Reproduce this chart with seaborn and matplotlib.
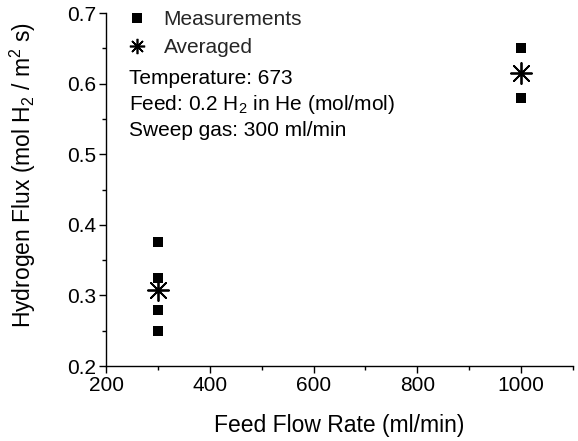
import matplotlib
matplotlib.use("Agg")
import matplotlib.pyplot as plt
import seaborn as sns
import pandas as pd
from matplotlib.ticker import MultipleLocator
from matplotlib.lines import Line2D

sns.set_theme(style="ticks")
plt.rcParams['font.family'] = ['Liberation Sans', 'DejaVu Sans']
plt.rcParams['mathtext.fontset'] = 'custom'
plt.rcParams['mathtext.rm'] = 'Liberation Sans'
plt.rcParams['mathtext.it'] = 'Liberation Sans'

# Data
meas_flow = [300, 300, 300, 300, 1000, 1000]
meas_flux = [0.375, 0.325, 0.28, 0.25, 0.65, 0.58]
avg_flow = [300, 1000]
avg_flux = [0.3075, 0.615]

x_ticks = [200, 400, 600, 800, 1000]
y_ticks = [0.2, 0.3, 0.4, 0.5, 0.6, 0.7]

meas_df = pd.DataFrame({"flow": meas_flow, "flux": meas_flux})
avg_df = pd.DataFrame({"flow": avg_flow, "flux": avg_flux})

FS = 15
LFS = 16.5

fig = plt.figure(figsize=(5.78, 4.41), dpi=100)
ax = fig.add_axes([0.1834, 0.170, 0.808, 0.8005])

sns.scatterplot(data=meas_df, x="flow", y="flux", marker="s", color="black",
                s=52, edgecolor="black", linewidth=0, ax=ax, legend=False,
                zorder=3)
sns.scatterplot(data=avg_df, x="flow", y="flux", marker=(8, 2, 0), color="black",
                s=230, linewidth=1.3, ax=ax, legend=False, zorder=4)

ax.set_xlim(200, 1100)
ax.set_ylim(0.2, 0.7)
ax.set_xticks(x_ticks)
ax.set_yticks(y_ticks)
ax.set_yticklabels([f"{v:.1f}" for v in y_ticks])
ax.xaxis.set_minor_locator(MultipleLocator(100))
ax.yaxis.set_minor_locator(MultipleLocator(0.05))
ax.tick_params(axis="both", which="major", direction="out", length=5, width=1,
               labelsize=FS, color="black", labelcolor="black", pad=2)
ax.tick_params(axis="both", which="minor", direction="out", length=3, width=1,
               color="black")
for side in ["top", "right"]:
    ax.spines[side].set_visible(False)
for side in ["left", "bottom"]:
    ax.spines[side].set_color("black")
    ax.spines[side].set_linewidth(1.0)

ax.set_xlabel("Feed Flow Rate (ml/min)", fontsize=LFS, labelpad=14, color="black")
ax.set_ylabel("Hydrogen Flux (mol H$_2$ / m$^2$ s)", fontsize=LFS, color="black")
ax.yaxis.set_label_coords(-0.145, 0.54)

handles = [
    Line2D([], [], linestyle="none", marker="s", color="black", markersize=7.5,
           markeredgewidth=0),
    Line2D([], [], linestyle="none", marker=(8, 2, 0), color="black",
           markersize=11, markeredgewidth=1.2),
]
ax.legend(handles, ["Measurements", "Averaged"], loc="upper left", frameon=False,
          fontsize=FS, handletextpad=0.8, borderaxespad=0.0, borderpad=0.0,
          bbox_to_anchor=(0.043, 1.008), labelspacing=0.42, handlelength=1.0)

txt = "Temperature: 673\nFeed: 0.2 H$_2$ in He (mol/mol)\nSweep gas: 300 ml/min"
ax.text(0.049, 0.842, txt, transform=ax.transAxes, fontsize=FS, va="top",
        ha="left", linespacing=1.33, color="black")

fig.savefig("out.png", dpi=100)
